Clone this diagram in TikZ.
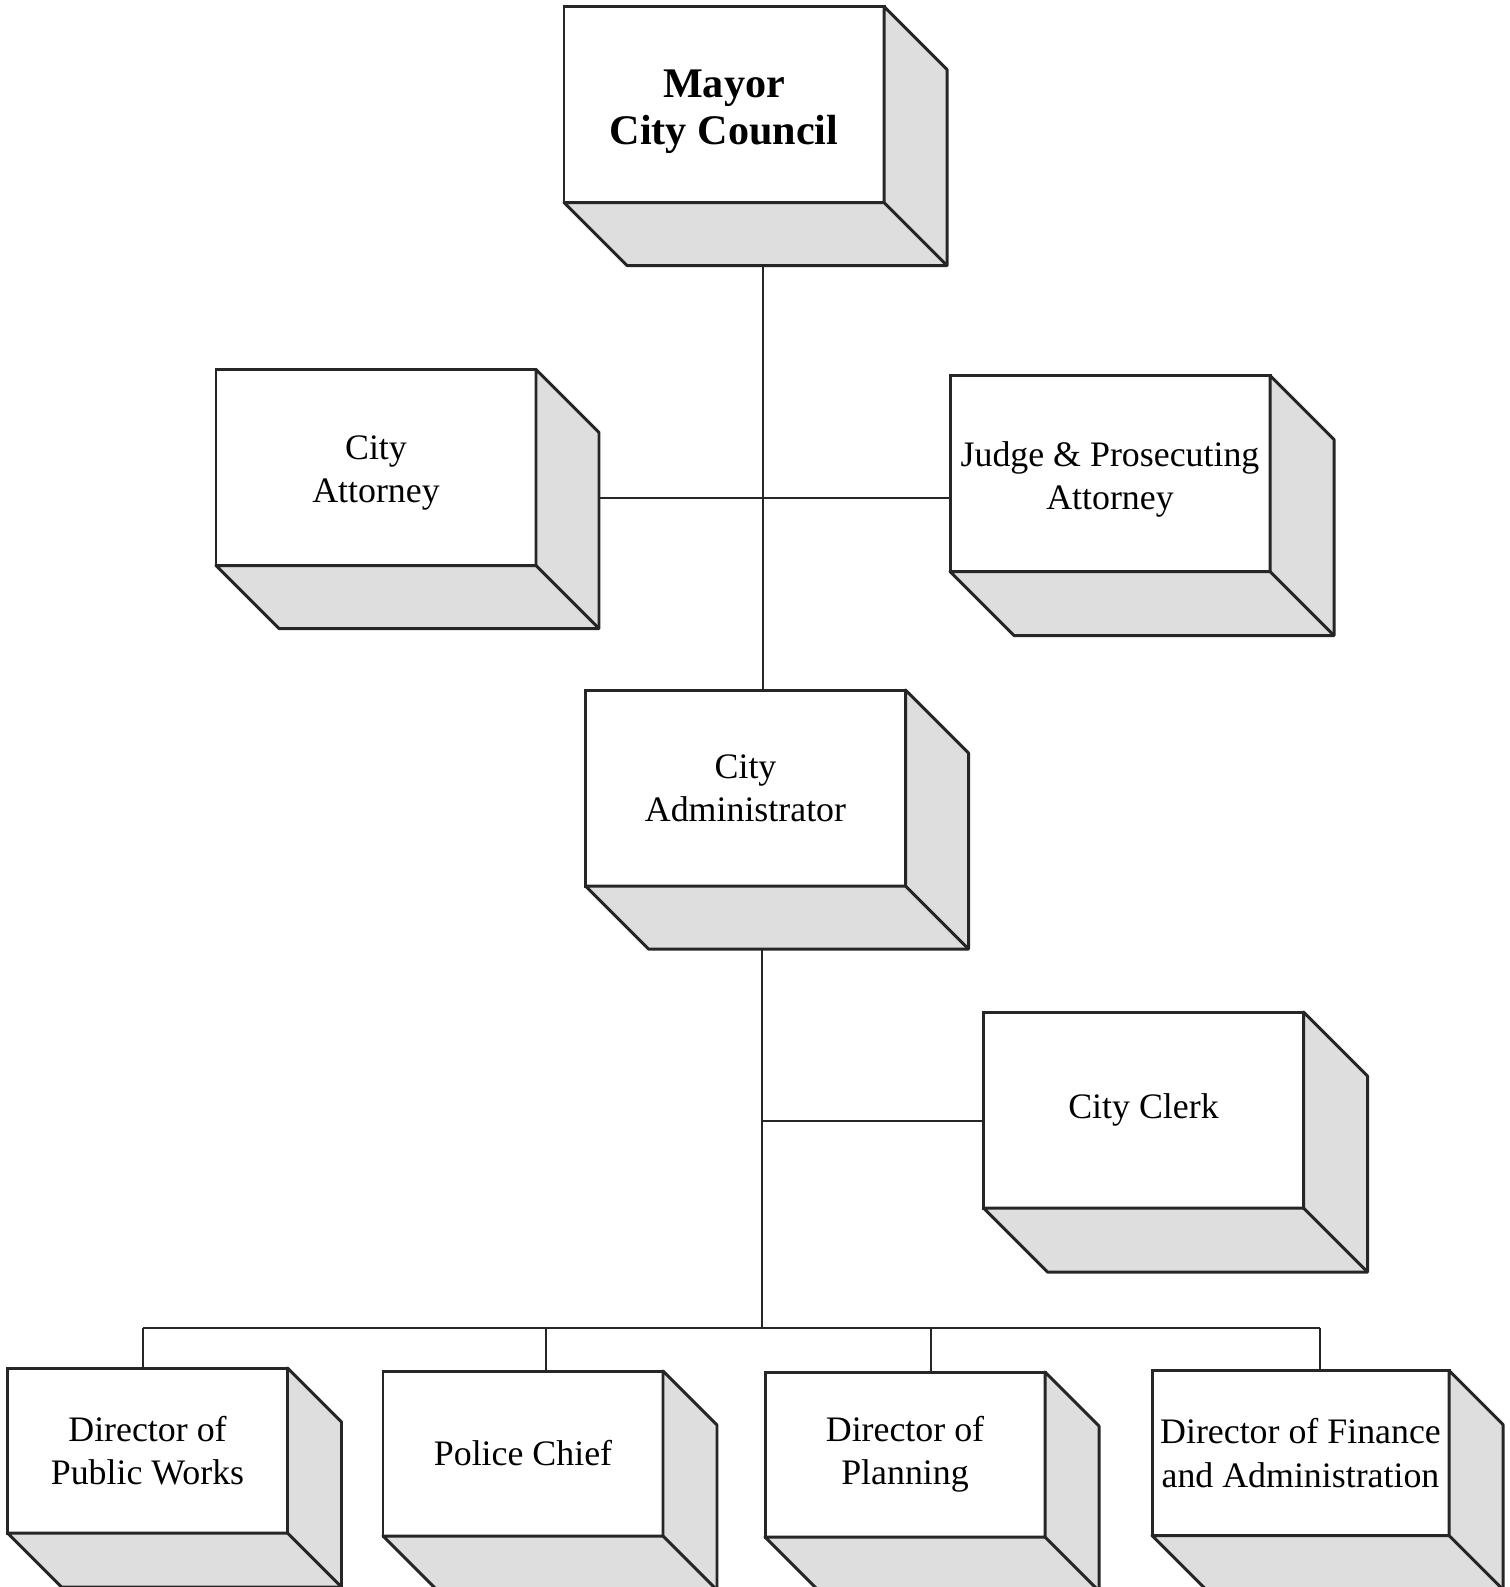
\documentclass[tikz,border=0pt]{standalone}
\usepackage{fontspec}
\setmainfont{Liberation Serif}
\usepackage{tikz}
\usetikzlibrary{positioning}

\newcommand\textlift[1]{\rule{0pt}{#1}}

\tikzset{
  unit/.style={draw=black!85, line width=0.85pt, fill=white, outer sep=0pt,
               minimum width=3.2cm, minimum height=1.96cm, inner sep=1pt,
               align=center, font=\fontsize{10.2}{12.3}\selectfont},
  dept/.style={unit, minimum width=2.8cm, minimum height=1.65cm},
  side/.style={draw=black!85, line width=0.85pt, fill=black!13, line join=round},
  link/.style={draw=black!85, line width=0.6pt}
}

\begin{document}
\begin{tikzpicture}
\useasboundingbox (0,0) rectangle (15.10,-15.87);
%
\node[unit, font=\fontsize{12}{13.6}\selectfont\bfseries] (mayor) at (7.24,-1.045) {\textlift{12pt}Mayor\\City Council};
\node[unit] (attorney) at (3.76,-4.675)  {\textlift{10pt}City\\Attorney};
\node[unit] (judge)    at (11.10,-4.735) {\textlift{10.5pt}Judge \& Prosecuting\\Attorney};
\node[unit] (admin)    at (7.455,-7.88)  {City\\Administrator};
\node[unit] (clerk)    at (11.435,-11.10) {City Clerk};
%
\node[dept] (works)    at (1.475,-14.505) {Director of\\Public Works};
\node[dept] (police)   at (5.23,-14.535)  {Police Chief};
\node[dept] (planning) at (9.05,-14.545)  {Director of\\Planning};
\node[dept, minimum width=2.97cm] (finance) at (13.005,-14.53) {Director of Finance\\and Administration};
%
% shaded sides of the boxes
\foreach \n/\d in {mayor/0.63, attorney/0.63, judge/0.64, admin/0.63, clerk/0.64,
                   works/0.54, police/0.54, planning/0.54, finance/0.54} {
  \coordinate (\n-back) at ([shift={(\d,-\d)}]\n.south east);
  \filldraw[side] (\n.north east) -- ++(\d,-\d) -- (\n-back)
    -- ([shift={(\d,-\d)}]\n.south west) -- (\n.south west) -- (\n.south east) -- cycle;
  \draw[side, fill=none] (\n.south east) -- (\n-back);
}
%
\coordinate (trunk) at (7.63,-4.98);
\draw[link] (trunk |- mayor-back) -- (trunk |- admin.north);
\draw[link] (attorney-back |- trunk) -- (judge.west |- trunk);
%
\coordinate (bus) at (7.62,-13.28);
\coordinate (clerkjoin) at (7.62,-11.21);
\draw[link] (bus |- admin-back) -- (bus);
\draw[link] (clerkjoin) -- (clerk.west |- clerkjoin);
\draw[link] (1.43,-13.28) -- (13.20,-13.28);
\foreach \n/\x in {works/1.43, police/5.46, planning/9.31, finance/13.20} {
  \coordinate (\n-drop) at (\x,-13.28);
  \draw[link] (\n-drop) -- (\n-drop |- \n.north);
}
\end{tikzpicture}
\end{document}
